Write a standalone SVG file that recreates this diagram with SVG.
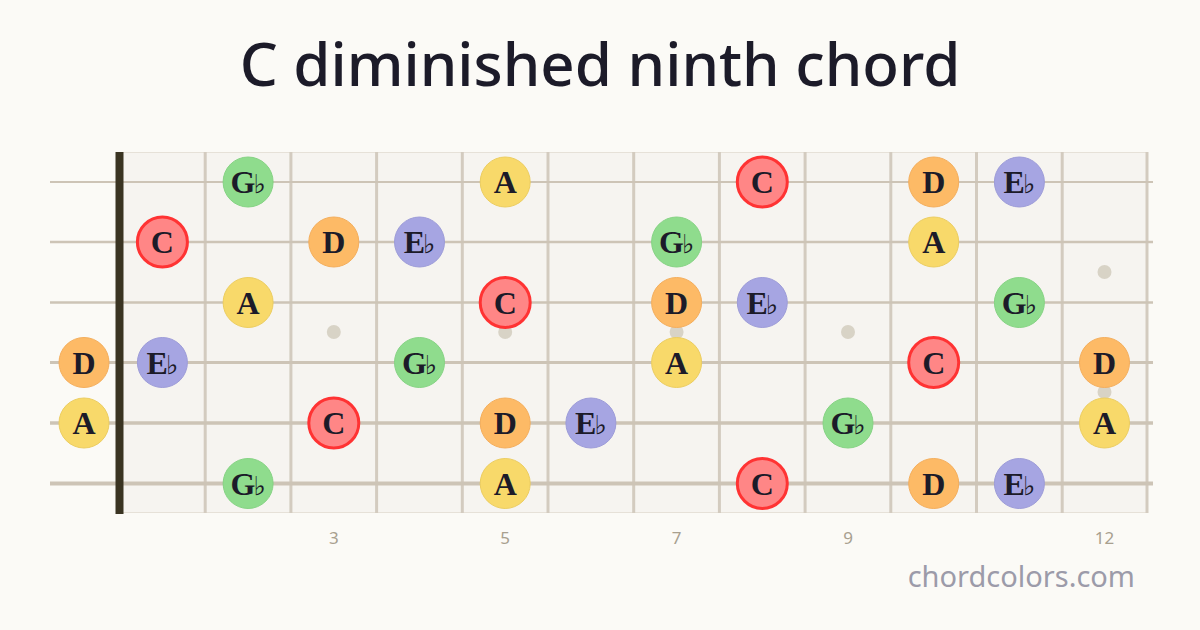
<svg xmlns="http://www.w3.org/2000/svg" width="1200" height="630" viewBox="0 0 1200 630">
<style>
.title{font-family:"Noto Sans","Liberation Sans",sans-serif;font-weight:500;font-size:60px;fill:#1c1b29}
.fret{stroke:#d3cbbf;stroke-width:3}
.str{stroke:#cdc4b6}
.inlay{fill:#d8d3c6}
.fn{font-family:"Noto Sans","Liberation Sans",sans-serif;font-size:17px;fill:#a8a08f;text-anchor:middle}
.brand{font-family:"Noto Sans","Liberation Sans",sans-serif;font-size:29px;fill:#9c9ba9;text-anchor:end}
.n text{font-family:"Liberation Serif","DejaVu Serif",serif;font-weight:bold;font-size:32px;fill:#1c1b29;text-anchor:middle}
.n text tspan{font-size:26px;font-weight:normal;font-family:"DejaVu Serif",serif}
.c circle{fill:#ff8686;stroke:#ff3333;stroke-width:3}
.d circle{fill:#fdba66;stroke:#f4ae5c;stroke-width:1}
.a circle{fill:#f8d96a;stroke:#eccd60;stroke-width:1}
.g circle{fill:#8fdc8d;stroke:#86d384;stroke-width:1}
.e circle{fill:#a6a5e2;stroke:#9d9cd8;stroke-width:1}
</style>
<rect width="1200" height="630" fill="#fbfaf6"/>
<text class="title" x="600" y="86" text-anchor="middle">C diminished ninth chord</text>
<g id="fretboard">
<rect x="119" y="152" width="1029" height="361" fill="#f6f4f0"/>
<line x1="119" y1="152.5" x2="1148" y2="152.5" stroke="#e6e1d8" stroke-width="1"/>
<line x1="119" y1="512.5" x2="1148" y2="512.5" stroke="#e6e1d8" stroke-width="1"/>
<g id="frets">
<line class="fret" x1="205.2" y1="152" x2="205.2" y2="513"/>
<line class="fret" x1="290.9" y1="152" x2="290.9" y2="513"/>
<line class="fret" x1="376.6" y1="152" x2="376.6" y2="513"/>
<line class="fret" x1="462.3" y1="152" x2="462.3" y2="513"/>
<line class="fret" x1="548" y1="152" x2="548" y2="513"/>
<line class="fret" x1="633.7" y1="152" x2="633.7" y2="513"/>
<line class="fret" x1="719.4" y1="152" x2="719.4" y2="513"/>
<line class="fret" x1="805.1" y1="152" x2="805.1" y2="513"/>
<line class="fret" x1="890.8" y1="152" x2="890.8" y2="513"/>
<line class="fret" x1="976.5" y1="152" x2="976.5" y2="513"/>
<line class="fret" x1="1062.2" y1="152" x2="1062.2" y2="513"/>
<line class="fret" x1="1147" y1="152" x2="1147" y2="513"/>
</g>
<g id="inlays">
<circle class="inlay" cx="333.8" cy="332" r="7"/>
<circle class="inlay" cx="505.2" cy="332" r="7"/>
<circle class="inlay" cx="676.6" cy="332" r="7"/>
<circle class="inlay" cx="848" cy="332" r="7"/>
<circle class="inlay" cx="1104.5" cy="272" r="7"/>
<circle class="inlay" cx="1104.5" cy="392" r="7"/>
</g>
<g id="strings">
<line class="str" x1="50" y1="182" x2="1153" y2="182" stroke-width="2"/>
<line class="str" x1="50" y1="242" x2="1153" y2="242" stroke-width="2.3"/>
<line class="str" x1="50" y1="302.5" x2="1153" y2="302.5" stroke-width="2.7"/>
<line class="str" x1="50" y1="362.5" x2="1153" y2="362.5" stroke-width="3"/>
<line class="str" x1="50" y1="423" x2="1153" y2="423" stroke-width="3.5"/>
<line class="str" x1="50" y1="483.5" x2="1153" y2="483.5" stroke-width="4"/>
</g>
<rect id="nut" x="115.5" y="152" width="8" height="362" fill="#3a3422"/>
</g>
<g id="fret-numbers">
<text class="fn" x="333.8" y="544">3</text>
<text class="fn" x="505.2" y="544">5</text>
<text class="fn" x="676.6" y="544">7</text>
<text class="fn" x="848" y="544">9</text>
<text class="fn" x="1104.5" y="544">12</text>
</g>
<g id="notes">
<g id="s1-f2" class="n g"><circle cx="248.1" cy="182" r="25"/><text x="248.1" y="193">G<tspan dx="-2">♭</tspan></text></g>
<g id="s1-f5" class="n a"><circle cx="505.2" cy="182" r="25"/><text x="505.2" y="193">A</text></g>
<g id="s1-f8" class="n c"><circle cx="762.3" cy="182" r="25"/><text x="762.3" y="193">C</text></g>
<g id="s1-f10" class="n d"><circle cx="933.7" cy="182" r="25"/><text x="933.7" y="193">D</text></g>
<g id="s1-f11" class="n e"><circle cx="1019.4" cy="182" r="25"/><text x="1019.4" y="193">E<tspan dx="-2">♭</tspan></text></g>

<g id="s2-f1" class="n c"><circle cx="162.4" cy="242" r="25"/><text x="162.4" y="253">C</text></g>
<g id="s2-f3" class="n d"><circle cx="333.8" cy="242" r="25"/><text x="333.8" y="253">D</text></g>
<g id="s2-f4" class="n e"><circle cx="419.5" cy="242" r="25"/><text x="419.5" y="253">E<tspan dx="-2">♭</tspan></text></g>
<g id="s2-f7" class="n g"><circle cx="676.6" cy="242" r="25"/><text x="676.6" y="253">G<tspan dx="-2">♭</tspan></text></g>
<g id="s2-f10" class="n a"><circle cx="933.7" cy="242" r="25"/><text x="933.7" y="253">A</text></g>

<g id="s3-f2" class="n a"><circle cx="248.1" cy="302.5" r="25"/><text x="248.1" y="313.5">A</text></g>
<g id="s3-f5" class="n c"><circle cx="505.2" cy="302.5" r="25"/><text x="505.2" y="313.5">C</text></g>
<g id="s3-f7" class="n d"><circle cx="676.6" cy="302.5" r="25"/><text x="676.6" y="313.5">D</text></g>
<g id="s3-f8" class="n e"><circle cx="762.3" cy="302.5" r="25"/><text x="762.3" y="313.5">E<tspan dx="-2">♭</tspan></text></g>
<g id="s3-f11" class="n g"><circle cx="1019.4" cy="302.5" r="25"/><text x="1019.4" y="313.5">G<tspan dx="-2">♭</tspan></text></g>

<g id="s4-f0" class="n d"><circle cx="84" cy="362.5" r="25"/><text x="84" y="373.5">D</text></g>
<g id="s4-f1" class="n e"><circle cx="162.4" cy="362.5" r="25"/><text x="162.4" y="373.5">E<tspan dx="-2">♭</tspan></text></g>
<g id="s4-f4" class="n g"><circle cx="419.5" cy="362.5" r="25"/><text x="419.5" y="373.5">G<tspan dx="-2">♭</tspan></text></g>
<g id="s4-f7" class="n a"><circle cx="676.6" cy="362.5" r="25"/><text x="676.6" y="373.5">A</text></g>
<g id="s4-f10" class="n c"><circle cx="933.7" cy="362.5" r="25"/><text x="933.7" y="373.5">C</text></g>
<g id="s4-f12" class="n d"><circle cx="1104.5" cy="362.5" r="25"/><text x="1104.5" y="373.5">D</text></g>

<g id="s5-f0" class="n a"><circle cx="84" cy="423" r="25"/><text x="84" y="434">A</text></g>
<g id="s5-f3" class="n c"><circle cx="333.8" cy="423" r="25"/><text x="333.8" y="434">C</text></g>
<g id="s5-f5" class="n d"><circle cx="505.2" cy="423" r="25"/><text x="505.2" y="434">D</text></g>
<g id="s5-f6" class="n e"><circle cx="590.9" cy="423" r="25"/><text x="590.9" y="434">E<tspan dx="-2">♭</tspan></text></g>
<g id="s5-f9" class="n g"><circle cx="848" cy="423" r="25"/><text x="848" y="434">G<tspan dx="-2">♭</tspan></text></g>
<g id="s5-f12" class="n a"><circle cx="1104.5" cy="423" r="25"/><text x="1104.5" y="434">A</text></g>

<g id="s6-f2" class="n g"><circle cx="248.1" cy="483.5" r="25"/><text x="248.1" y="494.5">G<tspan dx="-2">♭</tspan></text></g>
<g id="s6-f5" class="n a"><circle cx="505.2" cy="483.5" r="25"/><text x="505.2" y="494.5">A</text></g>
<g id="s6-f8" class="n c"><circle cx="762.3" cy="483.5" r="25"/><text x="762.3" y="494.5">C</text></g>
<g id="s6-f10" class="n d"><circle cx="933.7" cy="483.5" r="25"/><text x="933.7" y="494.5">D</text></g>
<g id="s6-f11" class="n e"><circle cx="1019.4" cy="483.5" r="25"/><text x="1019.4" y="494.5">E<tspan dx="-2">♭</tspan></text></g>
</g>
<g id="connectors"></g>
<text class="brand" x="1135" y="587">chordcolors.com</text>
</svg>
